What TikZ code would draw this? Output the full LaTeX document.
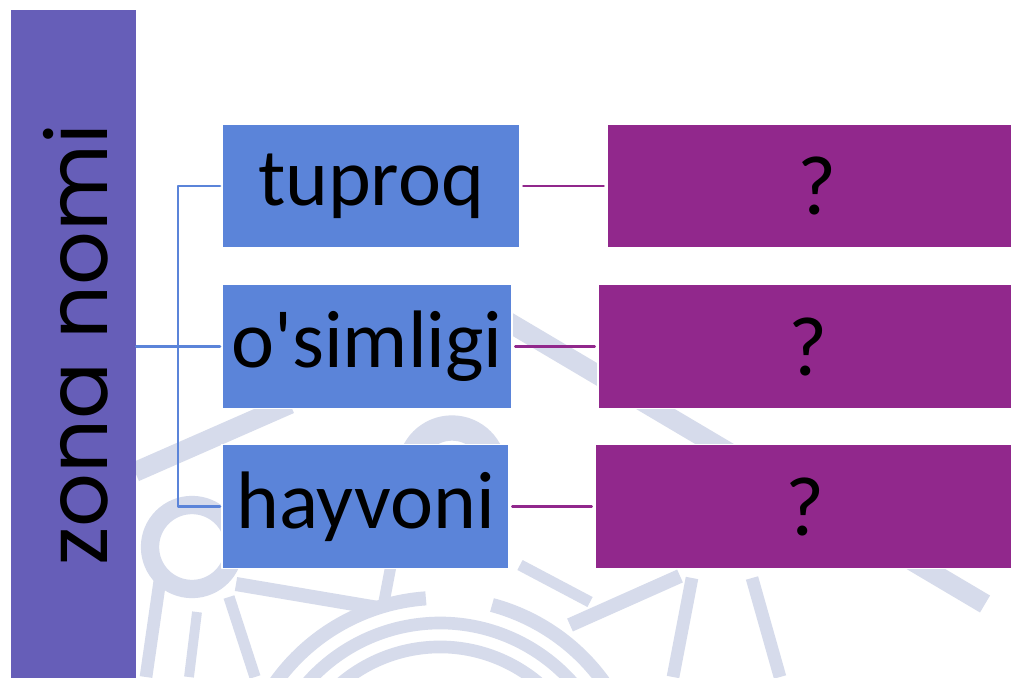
\documentclass[tikz,border=0pt]{standalone}
\usepackage{fontspec}
\setmainfont{Carlito}
\newfontfamily\gothicfont{Poppins}
\usetikzlibrary{positioning}
\definecolor{barcol}{RGB}{102,94,184}
\definecolor{zonecol}{RGB}{91,132,217}
\definecolor{askcol}{RGB}{145,40,140}
\definecolor{wmcol}{RGB}{214,219,235}

\begin{document}
\begin{tikzpicture}[x=0.025cm, y=-0.025cm, line cap=round, line join=round,
  zonebox/.style={fill=zonecol, draw=white, line width=0.8pt, inner sep=0pt,
    minimum height=3.1cm, font=\fontsize{58}{62}\selectfont},
  askbox/.style={fill=askcol, draw=white, line width=0.8pt, inner sep=0pt,
    minimum width=10.5cm, minimum height=3.1cm, font=\fontsize{60}{64}\selectfont},
  bline/.style={draw=zonecol, line width=2pt},
  pline/.style={draw=askcol, line width=2pt, shorten <=2pt, shorten >=2pt},
  wmline/.style={draw=wmcol, line width=9pt, line cap=butt}]
  \clip (0,0) rectangle (1011,677);
  \fill[white] (0,0) rectangle (1011,677);
  % faint logo behind the boxes
  \draw[wmline, line width=14pt] (135,472) -- (290,404);
  \draw[wmline, line width=14pt] (505,320) -- (985,604);
  \draw[wmline, line width=13pt] (192,547) circle [radius=42];
  \draw[wmline, line width=18pt] (410,470) arc[start angle=180, end angle=360, radius=42];
  \draw[wmline, line width=10pt] (274.5,684) arc[start angle=215, end angle=266, radius=202];
  \draw[wmline, line width=10pt] (492,605) arc[start angle=285, end angle=325, radius=202];
  \draw[wmline] (286.7,711.5) arc[start angle=210, end angle=330, radius=177];
  \draw[wmline] (301.3,735.3) arc[start angle=205, end angle=335, radius=153];
  \draw[wmline] (160,580) -- (146,677);
  \draw[wmline, line width=7pt] (197,612) -- (189,677);
  \draw[wmline, line width=10pt] (236,584) -- (378,608);
  \draw[wmline, line width=8pt] (229,597) -- (255,677);
  \draw[wmline, line width=8pt] (384,602) -- (392,560);
  \draw[wmline, line width=10pt] (680,576) -- (570,625);
  \draw[wmline] (692,578) -- (673,677);
  \draw[wmline] (752,578) -- (780,677);
  \draw[wmline, line width=8pt] (520,565) -- (590,602);

  % left bar
  \node[fill=barcol, minimum width=3.125cm, minimum height=16.8cm, inner sep=0pt]
    (bar) at (73.5,346) {};
  \node[rotate=90, font=\gothicfont\fontsize{60}{64}\selectfont] (zona) at (76,345) {zona nomi};

  % middle column
  \node[zonebox, minimum width=7.45cm] (tuproq) at (371,186) {tuproq};
  \node[zonebox, minimum width=7.25cm] (osim) at (367,346.5) {o\textquotesingle simligi};
  \node[zonebox, minimum width=7.175cm] (hayvon) at (365.5,506.5) {hayvoni};

  % right column
  \node[askbox] (q1) at (817,186) {?};
  \node[askbox] (q2) at (808,346.5) {?};
  \node[askbox] (q3) at (805,506.5) {?};

  % connectors
  \draw[bline] (bar.east |- osim.west) -- ([xshift=-1pt]osim.west);
  \draw[bline] ([xshift=-1pt]tuproq.west) -- ++(-42,0) |- ([xshift=-1pt]hayvon.west);
  \draw[pline] (tuproq.east) -- (q1.west);
  \draw[pline] (osim.east) -- (q2.west);
  \draw[pline] (hayvon.east) -- (q3.west);
\end{tikzpicture}
\end{document}
